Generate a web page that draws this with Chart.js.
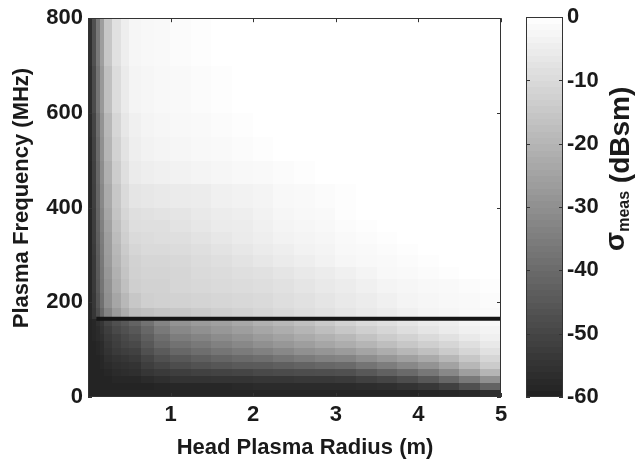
<!DOCTYPE html>
<html>
<head>
<meta charset="utf-8">
<script src="https://cdn.jsdelivr.net/npm/chart.js@4.4.0/dist/chart.umd.min.js"></script>
<style>
  html, body { margin: 0; padding: 0; background: #fff; }
  #wrap { position: relative; width: 635px; height: 462px; }
  #main { position: absolute; left: 0; top: 0; }
  #cbar { position: absolute; left: 520px; top: 0; }
</style>
</head>
<body>
<div id="wrap">
  <canvas id="main" width="520" height="462"></canvas>
  <canvas id="cbar" width="115" height="462"></canvas>
</div>
<script>
// cell edges of the map
const radiusEdges = [0, 0.05, 0.1, 0.15, 0.2, 0.3, 0.4, 0.5, 0.65, 0.8, 1, 1.25, 1.5, 1.75, 2, 2.25, 2.5, 2.75, 3, 3.25, 3.5, 3.75, 4, 4.25, 4.5, 4.75, 5];
const freqEdges = [0, 15, 30, 45, 60, 75, 90, 105, 120, 135, 150, 165, 190, 220, 250, 275, 300, 325, 350, 375, 400, 450, 500, 550, 600, 700, 800];

// sigma_meas in dBsm, one row per frequency band (bottom to top), one value per radius band
const sigmaRows = [
  [-59,-59,-59,-59,-59,-59,-59,-59,-59,-59,-59,-59,-59,-59,-59,-59,-59,-59,-59,-59,-59,-59,-58.5,-58,-57.5,-56],
  [-59,-59,-59,-59,-59,-59,-59,-59,-59,-58.5,-58,-58,-58,-57.5,-57,-57,-57,-57,-57,-56.5,-56,-55,-53.5,-51,-47,-42],
  [-59,-59,-59,-59,-59,-58,-58,-58,-57,-56,-55,-55,-54.5,-54.5,-54,-54,-53.5,-53.5,-53,-51.5,-50,-48,-45,-41,-36,-30],
  [-59,-59,-59,-59,-58,-57,-56.5,-56,-54,-53,-52,-51,-50.5,-50,-49,-48.5,-48,-47.5,-47,-45,-42.5,-40,-36.5,-32,-26,-20],
  [-59,-59,-59,-58,-57,-56,-55.5,-55,-52,-50,-48,-46.5,-45.5,-44.5,-44,-43,-42,-41,-40,-37.5,-35,-32,-29,-25,-19.5,-14],
  [-59,-59,-59,-58,-56,-55,-54,-53,-50,-47,-45,-43,-41.5,-40,-39,-37,-35.5,-34,-33,-30.5,-28,-25.5,-23,-19.5,-15,-11],
  [-59,-59,-58,-57,-55,-53,-52,-51,-47,-44,-41,-39,-37,-35.5,-34,-32,-30,-28.5,-27,-24.5,-22,-19.5,-17,-14,-11,-8],
  [-59,-59,-58,-57,-54,-52,-50,-49,-45,-41,-38,-36,-34,-32,-30,-28,-26,-24,-22,-20,-17.5,-15,-13,-11,-8.5,-6],
  [-59,-58,-57,-56,-53,-51,-49,-47,-43,-39,-35,-33,-31,-29,-27,-25,-23,-21,-19,-16.5,-14,-12,-10,-8,-6,-4],
  [-59,-58,-57,-55,-52,-49,-47,-45,-41,-36,-32,-30,-28,-26,-24,-22,-20,-17.5,-15,-13,-11,-9,-7,-5.5,-4,-3],
  [-59,-58,-56,-54,-50,-47,-45,-42,-38,-33,-29,-27,-25.5,-23.5,-21,-19,-17,-14.5,-12,-10,-8.5,-7,-5.5,-4.5,-3,-2],
  [-58,-54,-48,-41,-33,-27,-22,-18,-17,-16,-15,-14,-13,-12,-11,-10,-9,-8,-7,-6,-5,-4,-3,-2.5,-2,-1.5],
  [-58,-53.5,-46,-38.5,-30,-24,-19,-15,-13,-12.5,-12,-11.5,-11,-10.5,-10,-9,-8,-7,-6,-5,-4,-3,-2.5,-2,-1.5,-1],
  [-58,-53,-45,-37,-29,-22,-17,-13,-12,-12,-11,-10.5,-10,-9.5,-9,-8,-7,-6,-5,-4,-3,-2.5,-2,-1.5,-1,-0.5],
  [-58,-53,-44.5,-36.5,-28,-21,-16,-12.5,-11.5,-11.5,-11,-10,-9.5,-8.5,-8,-7,-6,-5,-4,-3,-2,-1.5,-1,-0.5,0,0],
  [-58,-53,-44,-36,-27,-20,-15,-12,-11,-11,-10.5,-9.5,-8.5,-7.5,-6.5,-5.5,-4.5,-3.5,-2.5,-2,-1.5,-1,-0.5,0,0,0],
  [-58,-52.5,-43.5,-35.5,-26.5,-19,-14,-11,-10,-10,-9.5,-8.5,-7.5,-6.5,-5.5,-4.5,-3.5,-3,-2,-1.5,-1,-0.5,0,0,0,0],
  [-58,-52,-43,-35,-26,-18,-13,-10,-9.5,-9,-8.5,-7.5,-6.5,-5.5,-4.5,-3.5,-3,-2.5,-1.5,-1,-0.5,0,0,0,0,0],
  [-58,-52,-42.5,-34,-25,-17,-12,-9,-8.5,-8.5,-7.5,-6.5,-5.5,-5,-4,-3,-2.5,-2,-1,-0.5,0,0,0,0,0,0],
  [-58,-52,-42,-33,-24,-16,-11,-8.5,-8,-7.5,-7,-6,-5,-4.5,-3.5,-2.5,-2,-1.5,-0.5,0,0,0,0,0,0,0],
  [-58,-51.5,-41.5,-32,-23,-15,-10,-7,-6.5,-6,-5.5,-5,-4,-3.5,-3,-2,-1.5,-1,-0.5,0,0,0,0,0,0,0],
  [-58,-51,-41,-31,-21.5,-13.5,-8.5,-5.5,-4.5,-4,-3.5,-3,-2.5,-2,-1.5,-1,-0.5,0,0,0,0,0,0,0,0,0],
  [-57.5,-50.5,-40,-30,-20,-12,-7.5,-4.5,-3.5,-3,-2.5,-2,-1.5,-1,-0.5,0,0,0,0,0,0,0,0,0,0,0],
  [-57,-50,-39,-29,-19,-11,-6.5,-4,-3,-2.5,-2,-1.5,-1,-0.5,0,0,0,0,0,0,0,0,0,0,0,0],
  [-56.5,-48.5,-37.5,-27.5,-17,-9.5,-5.5,-3,-2.5,-2,-1.5,-1,-0.5,0,0,0,0,0,0,0,0,0,0,0,0,0],
  [-56,-47,-36,-26,-15,-8,-4.5,-2.5,-2,-1.5,-1,-0.5,0,0,0,0,0,0,0,0,0,0,0,0,0,0]
];

// black horizontal line
const lineRadius = [0.1, 5];
const lineFreq = [165, 165];

const xTicks = [1, 2, 3, 4, 5];
const yTicks = [0, 200, 400, 600, 800];
const cbTicks = [0, -10, -20, -30, -40, -50, -60];
const cbMin = -60, cbMax = 0;

const FAMILY = '"Liberation Sans", Arial, Helvetica, sans-serif';
const TEXT = '#1a1a1a';
const tickFont = { family: FAMILY, size: 22, weight: 'bold' };

function grayFor(v) {
  const t = Math.max(0, Math.min(1, (v - cbMin) / (cbMax - cbMin)));
  const g = Math.round(32 + t * 223);
  return 'rgb(' + g + ',' + g + ',' + g + ')';
}

function drawFrame(ctx, area) {
  ctx.save();
  ctx.strokeStyle = '#333';
  ctx.lineWidth = 1;
  ctx.strokeRect(Math.round(area.left) + 0.5, Math.round(area.top) + 0.5,
    Math.round(area.right - area.left) - 1, Math.round(area.bottom - area.top) - 1);
  ctx.restore();
}

const heatmap = {
  id: 'heatmap',
  beforeDatasetsDraw(chart) {
    const { ctx, scales: { x, y } } = chart;
    ctx.save();
    sigmaRows.forEach((row, j) => {
      const yb = y.getPixelForValue(freqEdges[j]);
      const yt = y.getPixelForValue(freqEdges[j + 1]);
      row.forEach((v, i) => {
        const xl = x.getPixelForValue(radiusEdges[i]);
        const xr = x.getPixelForValue(radiusEdges[i + 1]);
        ctx.fillStyle = grayFor(v);
        ctx.fillRect(Math.floor(xl), Math.floor(yt), Math.ceil(xr) - Math.floor(xl), Math.ceil(yb) - Math.floor(yt));
      });
    });
    ctx.restore();
  },
  afterDatasetsDraw(chart) {
    const { ctx, chartArea: a, scales: { x, y } } = chart;
    drawFrame(ctx, a);
    ctx.save();
    ctx.strokeStyle = '#333';
    ctx.lineWidth = 1;
    ctx.beginPath();
    xTicks.forEach(v => {
      const px = Math.round(x.getPixelForValue(v)) + 0.5;
      ctx.moveTo(px, a.top); ctx.lineTo(px, a.top + 4);
      ctx.moveTo(px, a.bottom); ctx.lineTo(px, a.bottom - 4);
    });
    yTicks.forEach(v => {
      const py = Math.round(y.getPixelForValue(v)) + 0.5;
      ctx.moveTo(a.left, py); ctx.lineTo(a.left + 4, py);
      ctx.moveTo(a.right, py); ctx.lineTo(a.right - 4, py);
    });
    ctx.stroke();
    ctx.restore();
  },
  afterDraw(chart) {
    const ctx = chart.ctx;
    ctx.save();
    ctx.fillStyle = TEXT;
    ctx.font = 'bold 22px ' + FAMILY;
    ctx.textAlign = 'center';
    ctx.textBaseline = 'middle';
    ctx.fillText('Head Plasma Radius (m)', 305, 448);
    ctx.translate(22, 198);
    ctx.rotate(-Math.PI / 2);
    ctx.fillText('Plasma Frequency (MHz)', 0, 0);
    ctx.restore();
  }
};

new Chart(document.getElementById('main'), {
  type: 'scatter',
  data: {
    datasets: [{
      data: lineRadius.map((r, i) => ({ x: r, y: lineFreq[i] })),
      showLine: true,
      borderColor: '#151515',
      borderWidth: 4,
      pointRadius: 0
    }]
  },
  options: {
    responsive: false,
    animation: false,
    layout: { padding: { top: 17, right: 19, left: 0, bottom: 0 } },
    plugins: { legend: { display: false }, tooltip: { enabled: false } },
    scales: {
      x: {
        type: 'linear', min: 0, max: 5,
        afterBuildTicks: s => { s.ticks = xTicks.map(v => ({ value: v })); },
        afterFit: s => { s.height = 65; },
        grid: { display: false, drawTicks: false },
        border: { display: false },
        ticks: { autoSkip: false, maxRotation: 0, padding: 5, font: tickFont, color: TEXT }
      },
      y: {
        type: 'linear', min: 0, max: 800,
        afterBuildTicks: s => { s.ticks = yTicks.map(v => ({ value: v })); },
        afterFit: s => { s.width = 88; },
        grid: { display: false, drawTicks: false },
        border: { display: false },
        ticks: { autoSkip: false, padding: 5, font: tickFont, color: TEXT }
      }
    }
  },
  plugins: [heatmap]
});

const colorbar = {
  id: 'colorbar',
  beforeDatasetsDraw(chart) {
    const { ctx, chartArea: a, scales: { y } } = chart;
    ctx.save();
    for (let v = cbMin; v < cbMax; v += 1) {
      const yb = y.getPixelForValue(v);
      const yt = y.getPixelForValue(v + 1);
      ctx.fillStyle = grayFor(v + 0.5);
      ctx.fillRect(a.left, Math.floor(yt), a.right - a.left, Math.ceil(yb) - Math.floor(yt));
    }
    ctx.restore();
    drawFrame(ctx, a);
    ctx.save();
    ctx.strokeStyle = '#333';
    ctx.beginPath();
    cbTicks.forEach(v => {
      const py = Math.round(y.getPixelForValue(v)) + 0.5;
      ctx.moveTo(a.left, py); ctx.lineTo(a.left + 4, py);
      ctx.moveTo(a.right, py); ctx.lineTo(a.right - 4, py);
    });
    ctx.stroke();
    ctx.restore();
  },
  afterDraw(chart) {
    // sigma_meas (dBsm), rotated, with subscript
    const ctx = chart.ctx;
    ctx.save();
    ctx.fillStyle = TEXT;
    ctx.translate(109, 251);
    ctx.rotate(-Math.PI / 2);
    ctx.textAlign = 'left';
    ctx.textBaseline = 'alphabetic';
    ctx.font = 'bold 28px ' + FAMILY;
    ctx.fillText('σ', 0, -5);
    let u = ctx.measureText('σ').width;
    ctx.font = 'bold 16px ' + FAMILY;
    ctx.fillText('meas', u, 0);
    u += ctx.measureText('meas').width;
    ctx.font = 'bold 28px ' + FAMILY;
    ctx.fillText(' (dBsm)', u, 0);
    ctx.restore();
  }
};

new Chart(document.getElementById('cbar'), {
  type: 'scatter',
  data: { datasets: [] },
  options: {
    responsive: false,
    animation: false,
    layout: { padding: { top: 17, bottom: 65, left: 6, right: 0 } },
    plugins: { legend: { display: false }, tooltip: { enabled: false } },
    scales: {
      x: { display: false, min: 0, max: 1 },
      y: {
        position: 'right', min: cbMin, max: cbMax,
        afterBuildTicks: s => { s.ticks = cbTicks.map(v => ({ value: v })); },
        afterFit: s => { s.width = 72; },
        grid: { display: false, drawTicks: false },
        border: { display: false },
        ticks: { autoSkip: false, padding: 4, font: tickFont, color: TEXT }
      }
    }
  },
  plugins: [colorbar]
});
</script>
</body>
</html>
